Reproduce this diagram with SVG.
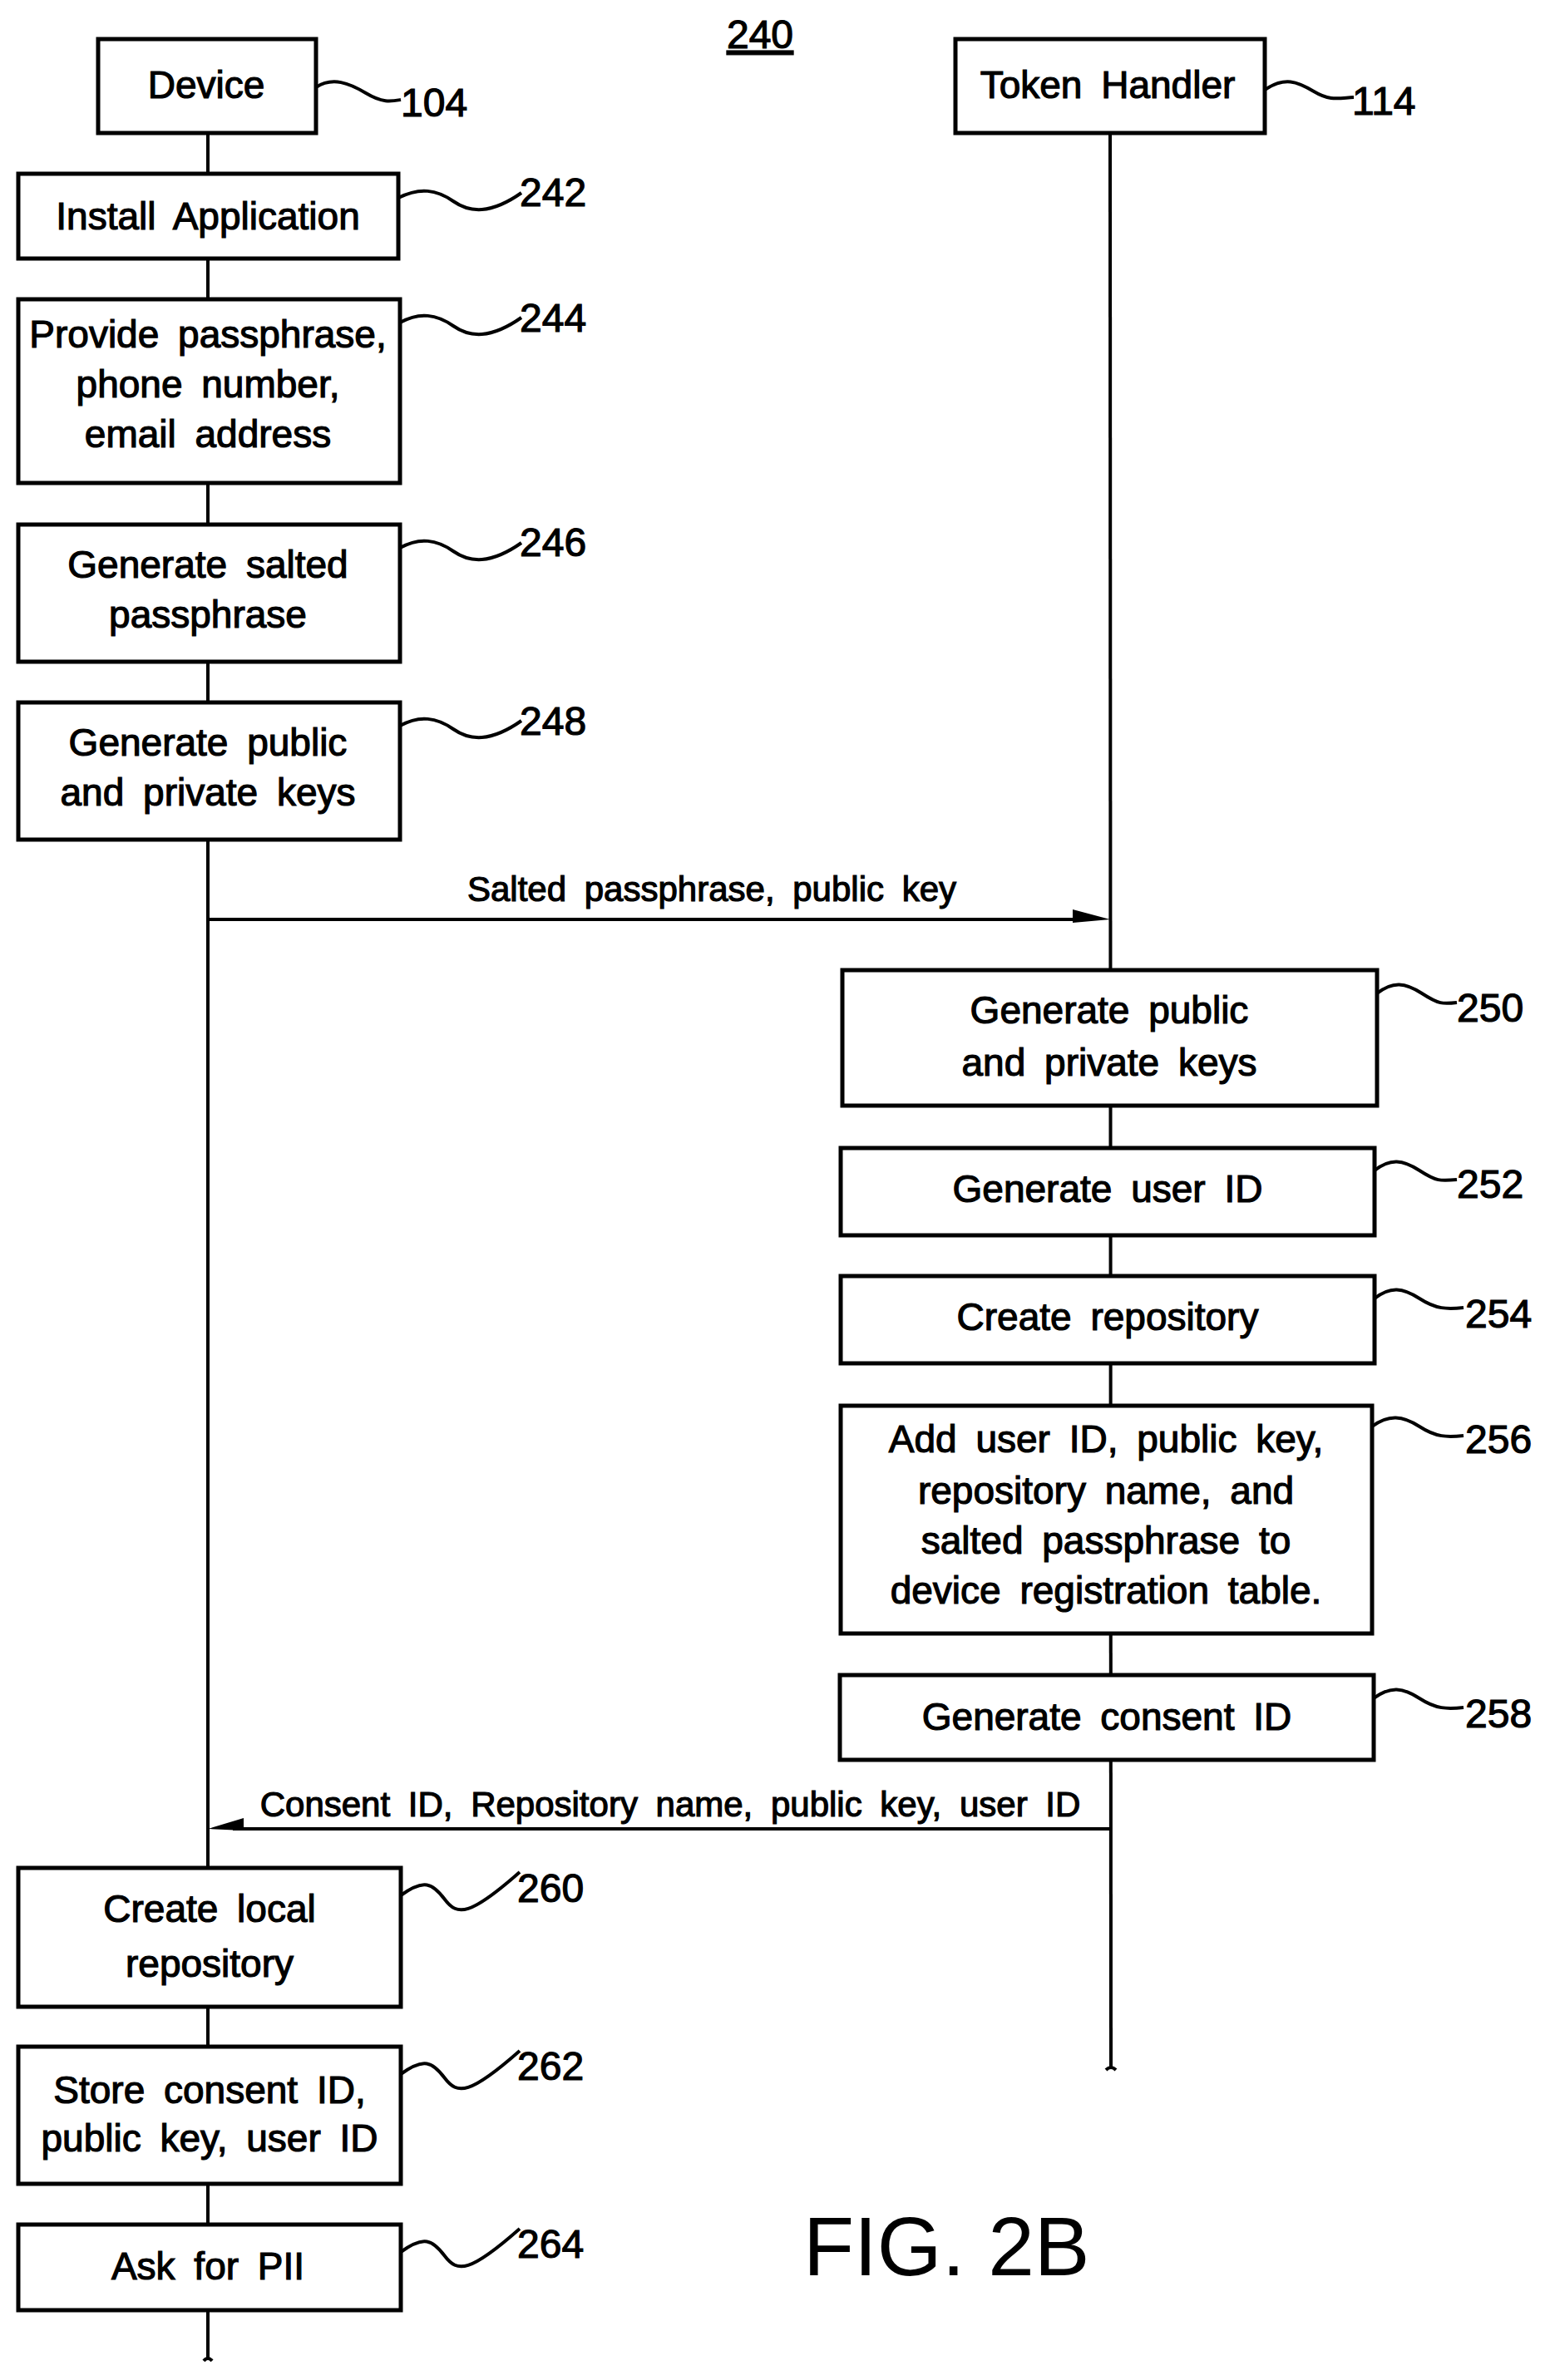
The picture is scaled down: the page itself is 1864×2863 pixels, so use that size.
<svg xmlns="http://www.w3.org/2000/svg" width="1864" height="2863" viewBox="0 0 1864 2863">
<style>
.b{fill:#fff;stroke:#000;stroke-width:5}
.t{font-family:"Liberation Sans",Arial,sans-serif;font-size:46px;text-anchor:middle;fill:#000;stroke:#000;stroke-width:1.2;word-spacing:10px}
.n{font-family:"Liberation Sans",Arial,sans-serif;font-size:48px;fill:#000;stroke:#000;stroke-width:1.2}
.l{fill:none;stroke:#000;stroke-width:4}
.w{fill:none;stroke:#000;stroke-width:4}
</style>
<rect width="1864" height="2863" fill="#fff"/>
<text class="n" x="914" y="58" text-anchor="middle" text-decoration="underline">240</text>
<g id="connectors">
<line class="l" x1="250" y1="160" x2="250" y2="2838"/>
<line class="l" x1="1335" y1="160" x2="1336" y2="2488"/>
<path class="l" d="M1330,2490 q6,-6 12,0"/>
<path class="l" d="M245,2840 q5,-6 10,0"/>
<line class="l" x1="250" y1="1106" x2="1300" y2="1106"/>
<path d="M1290,1094 L1335,1106 L1290,1110z"/>
<line class="l" x1="1335" y1="2200" x2="280" y2="2200"/>
<path d="M250,2200 L293,2187 L293,2202z"/>
<text class="t" x="856" y="1084" style="font-size:42px">Salted passphrase, public key</text>
<text class="t" x="806" y="2185" style="font-size:42px">Consent ID, Repository name, public key, user ID</text>
</g>
<g id="device"><rect class="b" x="118" y="47" width="262" height="113"/><text class="t" x="248" y="118">Device</text>
<path class="w" d="M380,105 C400,92 420,100 440,112 S470,122 482,120"/><text class="n" x="482" y="140">104</text></g>
<g id="token"><rect class="b" x="1149" y="47" width="372" height="113"/><text class="t" x="1332" y="118">Token Handler</text>
<path class="w" d="M1521,108 C1545,92 1560,98 1580,110 S1610,118 1628,117"/><text class="n" x="1626" y="138">114</text></g>
<g id="n242"><rect class="b" x="22" y="209" width="457" height="102"/><text class="t" x="250" y="276">Install Application</text>
<path class="w" d="M479,238 C505,225 525,228 545,242 S590,258 627,232"/><text class="n" x="625" y="248">242</text></g>
<g id="n244"><rect class="b" x="22" y="360" width="459" height="221"/><text class="t" x="250" y="418">Provide passphrase,</text><text class="t" x="250" y="478">phone number,</text><text class="t" x="250" y="538">email address</text>
<path class="w" d="M481,388 C505,375 525,378 545,392 S590,408 627,382"/><text class="n" x="625" y="399">244</text></g>
<g id="n246"><rect class="b" x="22" y="631" width="459" height="165"/><text class="t" x="250" y="695">Generate salted</text><text class="t" x="250" y="755">passphrase</text>
<path class="w" d="M481,659 C505,646 525,649 545,663 S590,679 627,653"/><text class="n" x="625" y="669">246</text></g>
<g id="n248"><rect class="b" x="22" y="845" width="459" height="165"/><text class="t" x="250" y="909">Generate public</text><text class="t" x="250" y="969">and private keys</text>
<path class="w" d="M481,873 C505,860 525,863 545,877 S590,893 627,867"/><text class="n" x="625" y="884">248</text></g>
<g id="n250"><rect class="b" x="1013" y="1167" width="643" height="163"/><text class="t" x="1334" y="1231">Generate public</text><text class="t" x="1334" y="1294">and private keys</text>
<path class="w" d="M1656,1195 C1675,1180 1690,1182 1710,1195 S1735,1208 1752,1206"/><text class="n" x="1752" y="1229">250</text></g>
<g id="n252"><rect class="b" x="1011" y="1381" width="642" height="105"/><text class="t" x="1332" y="1446">Generate user ID</text>
<path class="w" d="M1653,1408 C1672,1393 1687,1395 1707,1408 S1732,1421 1752,1419"/><text class="n" x="1752" y="1441">252</text></g>
<g id="n254"><rect class="b" x="1011" y="1535" width="642" height="105"/><text class="t" x="1332" y="1600">Create repository</text>
<path class="w" d="M1653,1562 C1672,1547 1687,1549 1707,1562 S1740,1575 1760,1573"/><text class="n" x="1762" y="1597">254</text></g>
<g id="n256"><rect class="b" x="1011" y="1691" width="639" height="274"/><text class="t" x="1330" y="1747">Add user ID, public key,</text><text class="t" x="1330" y="1809">repository name, and</text><text class="t" x="1330" y="1869">salted passphrase to</text><text class="t" x="1330" y="1929">device registration table.</text>
<path class="w" d="M1650,1716 C1670,1701 1687,1703 1707,1716 S1740,1729 1760,1727"/><text class="n" x="1762" y="1748">256</text></g>
<g id="n258"><rect class="b" x="1010" y="2015" width="642" height="102"/><text class="t" x="1331" y="2081">Generate consent ID</text>
<path class="w" d="M1652,2043 C1672,2028 1687,2030 1707,2043 S1740,2056 1760,2054"/><text class="n" x="1762" y="2078">258</text></g>
<g id="n260"><rect class="b" x="22" y="2247" width="460" height="167"/><text class="t" x="252" y="2312">Create local</text><text class="t" x="252" y="2378">repository</text>
<path class="w" d="M482,2280 C510,2260 520,2265 535,2285 S565,2305 625,2252"/><text class="n" x="622" y="2288">260</text></g>
<g id="n262"><rect class="b" x="22" y="2462" width="460" height="165"/><text class="t" x="252" y="2530">Store consent ID,</text><text class="t" x="252" y="2588">public key, user ID</text>
<path class="w" d="M482,2495 C510,2475 520,2480 535,2500 S565,2520 625,2467"/><text class="n" x="622" y="2502">262</text></g>
<g id="n264"><rect class="b" x="22" y="2676" width="460" height="103"/><text class="t" x="250" y="2742">Ask for PII</text>
<path class="w" d="M482,2709 C510,2689 520,2694 535,2714 S565,2734 625,2681"/><text class="n" x="622" y="2716">264</text></g>
<text x="966" y="2737" style="font-family:'Liberation Sans',Arial,sans-serif;font-size:100px">FIG. 2B</text>
</svg>
